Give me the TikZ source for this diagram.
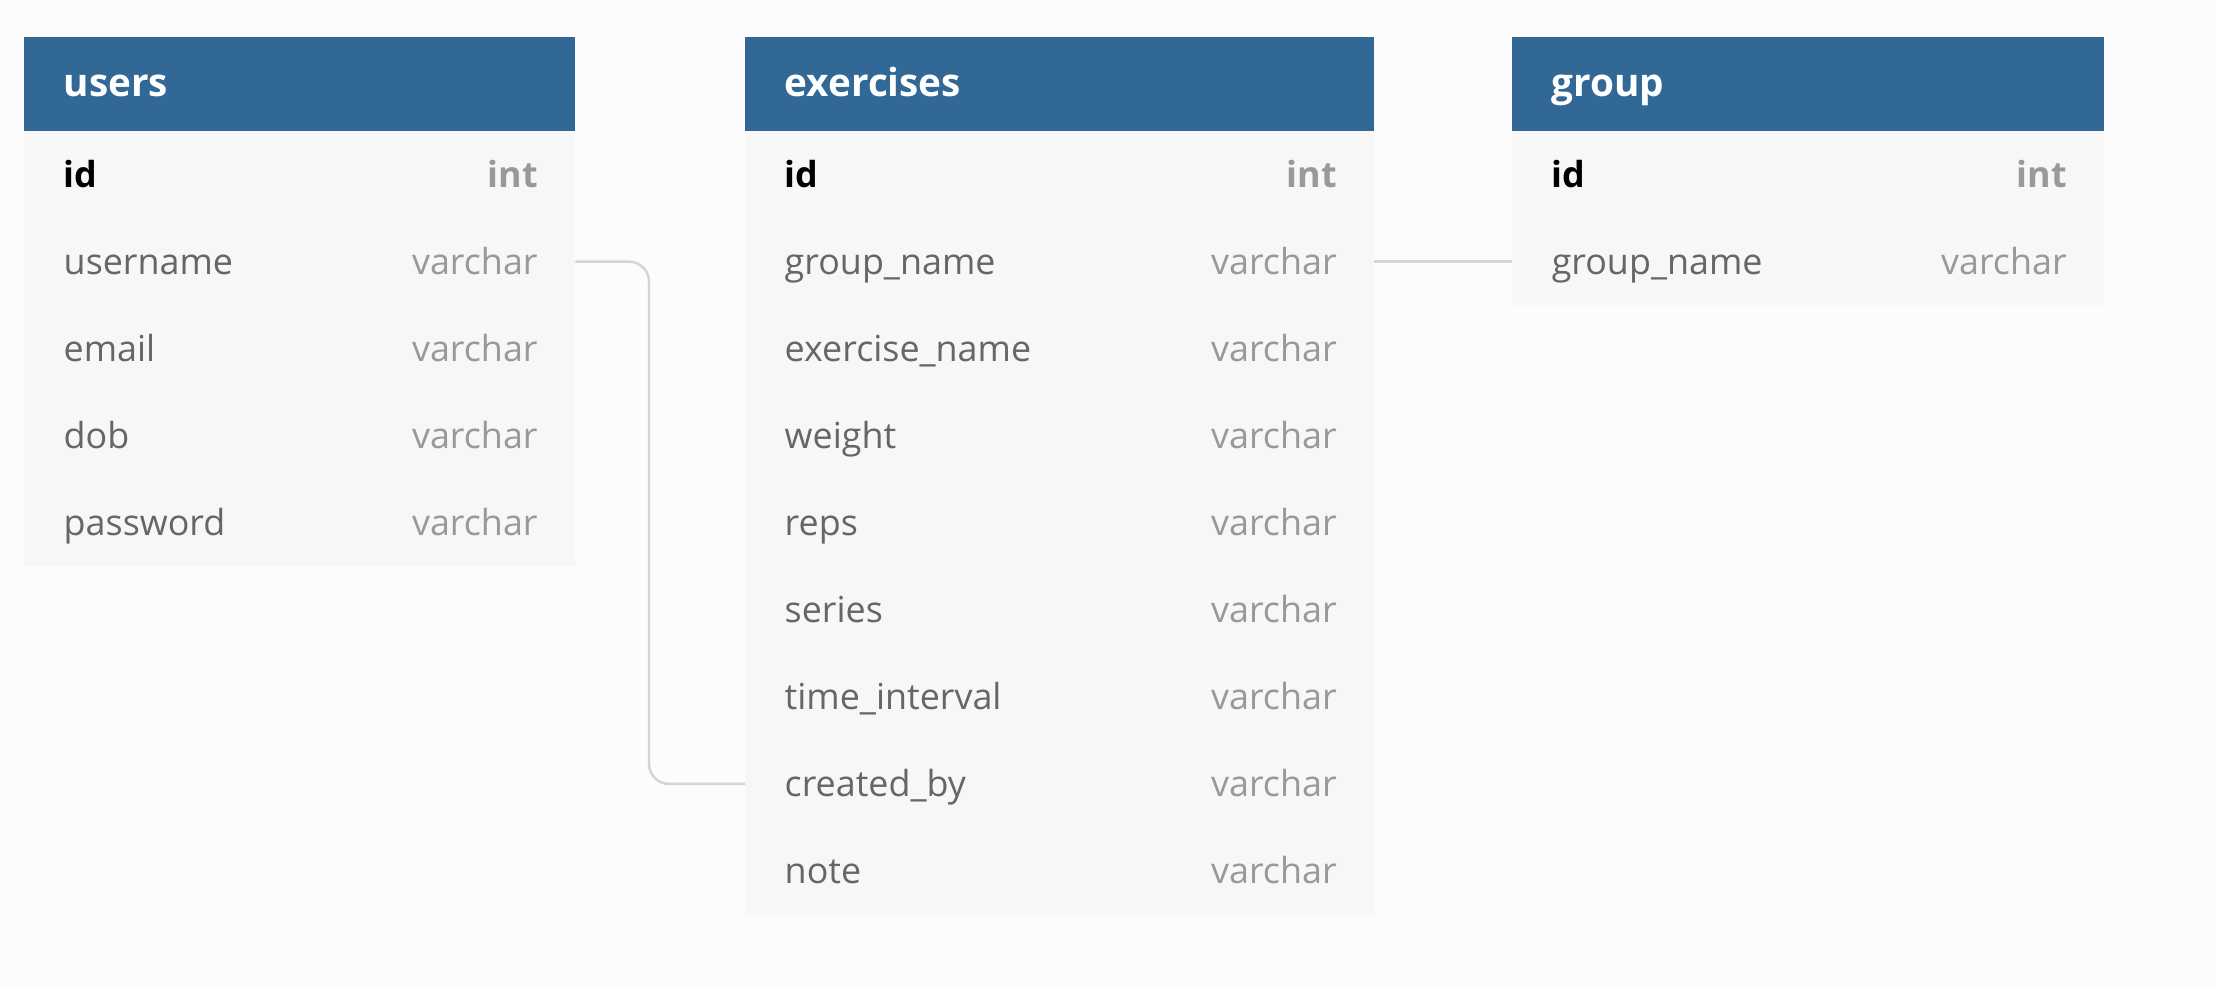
\documentclass[tikz,border=0pt]{standalone}
\usepackage{fontspec}
\setmainfont{Open Sans}
\usetikzlibrary{positioning}
\definecolor{headblue}{HTML}{316896}
\definecolor{rowfill}{HTML}{F7F7F7}
\definecolor{pagebg}{HTML}{FCFCFC}
\definecolor{fieldgray}{HTML}{666666}
\definecolor{typegray}{HTML}{999999}
\definecolor{linkgray}{HTML}{D4D4D4}
\tikzset{
  head/.style={fill=headblue, minimum height=0.94cm, inner sep=0pt, outer sep=0pt},
  row/.style={fill=rowfill, minimum height=0.87cm, inner sep=0pt, outer sep=0pt},
  tabtitle/.style={anchor=west, inner sep=0pt, text=white, font=\bfseries\fontsize{11}{13}\selectfont, text height=0.7em, text depth=0pt},
  keyname/.style={anchor=west, inner sep=0pt, text=black, font=\bfseries\fontsize{10.2}{12}\selectfont, text height=0.72em, text depth=0pt},
  keytype/.style={anchor=east, inner sep=0pt, text=typegray, font=\bfseries\fontsize{10.2}{12}\selectfont, text height=0.72em, text depth=0pt},
  fieldname/.style={anchor=west, inner sep=0pt, text=fieldgray, font=\fontsize{10.2}{12}\selectfont, text height=0.72em, text depth=0pt},
  fieldtype/.style={anchor=east, inner sep=0pt, text=typegray, font=\fontsize{10.2}{12}\selectfont, text height=0.72em, text depth=0pt},
  link/.style={draw=linkgray, line width=0.7pt}
}
\begin{document}
\begin{tikzpicture}[x=0.01cm, y=-0.01cm]
% background
\fill[pagebg] (0,0) rectangle (2216,986);

% users
\node[head, minimum width=5.51cm, anchor=north west] (users) at (24,37) {};
\node[tabtitle] (users-title) at ([xshift=0.39cm]users.west) {users};
\node[row, minimum width=5.51cm, below=0pt of users] (users-1) {};
\node[keyname] at ([xshift=0.39cm]users-1.west) {id};
\node[keytype] at ([xshift=-0.37cm]users-1.east) {int};
\foreach \f/\t [count=\i from 2, remember=\i as \j (initially 1)] in {username/varchar, email/varchar, dob/varchar, password/varchar}{
  \node[row, minimum width=5.51cm, below=0pt of users-\j] (users-\i) {};
  \node[fieldname] at ([xshift=0.39cm]users-\i.west) {\f};
  \node[fieldtype] at ([xshift=-0.37cm]users-\i.east) {\t};
}

% exercises
\node[head, minimum width=6.29cm, anchor=north west] (ex) at (745,37) {};
\node[tabtitle] (ex-title) at ([xshift=0.39cm]ex.west) {exercises};
\node[row, minimum width=6.29cm, below=0pt of ex] (ex-1) {};
\node[keyname] at ([xshift=0.39cm]ex-1.west) {id};
\node[keytype] at ([xshift=-0.37cm]ex-1.east) {int};
\foreach \f/\t [count=\i from 2, remember=\i as \j (initially 1)] in {group\_name/varchar, exercise\_name/varchar, weight/varchar, reps/varchar, series/varchar, time\_interval/varchar, created\_by/varchar, note/varchar}{
  \node[row, minimum width=6.29cm, below=0pt of ex-\j] (ex-\i) {};
  \node[fieldname] at ([xshift=0.39cm]ex-\i.west) {\f};
  \node[fieldtype] at ([xshift=-0.37cm]ex-\i.east) {\t};
}

% group
\node[head, minimum width=5.92cm, anchor=north west] (group) at (1512,37) {};
\node[tabtitle] (group-title) at ([xshift=0.39cm]group.west) {group};
\node[row, minimum width=5.92cm, below=0pt of group] (group-1) {};
\node[keyname] at ([xshift=0.39cm]group-1.west) {id};
\node[keytype] at ([xshift=-0.37cm]group-1.east) {int};
\node[row, minimum width=5.92cm, below=0pt of group-1] (group-2) {};
\node[fieldname] at ([xshift=0.39cm]group-2.west) {group\_name};
\node[fieldtype] at ([xshift=-0.37cm]group-2.east) {varchar};

% links
\coordinate (bend) at (649,400);
\draw[link, rounded corners=0.2cm] (users-2.east) -| (bend) |- (ex-8.west);
\draw[link] (ex-2.east) -- (group-2.west);
\end{tikzpicture}
\end{document}
